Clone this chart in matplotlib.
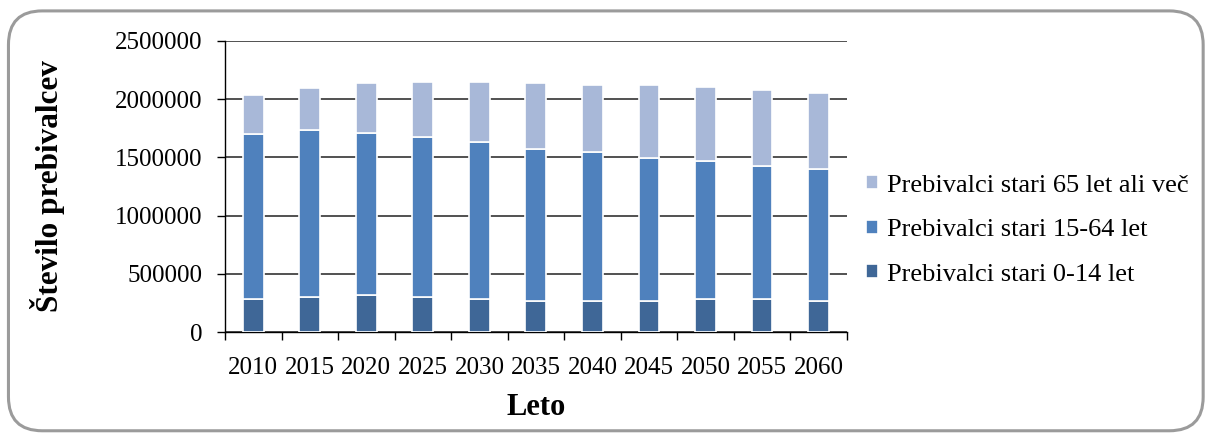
import matplotlib.pyplot as plt
from matplotlib.patches import FancyBboxPatch
import numpy as np

years = ["2010", "2015", "2020", "2025", "2030", "2035", "2040", "2045", "2050", "2055", "2060"]
age_0_14 = [282000, 302000, 316000, 302000, 282000, 267000, 267000, 267000, 282000, 282000, 267000]
age_15_64 = [1422000, 1431000, 1397000, 1373000, 1350000, 1308000, 1276000, 1230000, 1183000, 1140000, 1132000]
age_65 = [333000, 362000, 425000, 474000, 517000, 560000, 583000, 629000, 641000, 661000, 650000]
labels = ["Prebivalci stari 0-14 let", "Prebivalci stari 15-64 let", "Prebivalci stari 65 let ali več"]
colors = ["#3F6797", "#4F81BD", "#A8B8D8"]

plt.rcParams["font.family"] = ["Liberation Serif", "DejaVu Serif"]

fig = plt.figure(figsize=(12.08, 4.36), dpi=100)
ax = fig.add_axes([0.1863, 0.2385, 0.701 - 0.1863, 0.906 - 0.2385])

# rounded frame round the whole chart
frame = FancyBboxPatch((0.007, 0.012), 0.989, 0.963, boxstyle="round,pad=0,rounding_size=0.028",
                       transform=fig.transFigure, fill=False, edgecolor="#9B9B9B", linewidth=2.2,
                       mutation_aspect=1208 / 436)
fig.patches.append(frame)

x = np.arange(len(years))
w = 0.37
bottom = np.zeros(len(years))
handles = []
for vals, lab, col in zip([age_0_14, age_15_64, age_65], labels, colors):
    b = ax.bar(x, vals, w, bottom=bottom, color=col, edgecolor="white", linewidth=1.2, label=lab, zorder=3)
    handles.append(b)
    bottom += np.array(vals)

ax.set_xlim(-0.5, len(years) - 0.5)
ax.set_ylim(0, 2500000)
ax.set_yticks(np.arange(0, 2500001, 500000))
ax.yaxis.set_major_formatter(plt.FuncFormatter(lambda v, p: f"{int(v)}"))
ax.grid(axis="y", color="#333333", linewidth=1.2, zorder=0)
ax.set_axisbelow(True)

ax.set_xticks(x)
ax.set_xticklabels(years)
ax.set_xticks(np.arange(-0.5, len(years)), minor=True)
ax.tick_params(axis="x", which="major", length=0, labelsize=18, pad=18)
ax.tick_params(axis="x", which="minor", length=6, width=1, direction="out")
ax.tick_params(axis="y", length=6, width=1, direction="out", labelsize=18, pad=10)

for s in ["top", "right"]:
    ax.spines[s].set_visible(False)
ax.spines["left"].set_linewidth(1)
ax.spines["bottom"].set_linewidth(1)

ax.set_xlabel("Leto", fontsize=22, fontweight="bold", labelpad=10)
ax.set_ylabel("Število prebivalcev", fontsize=22.5, fontweight="bold", labelpad=36)

leg = ax.legend(handles[::-1], labels[::-1], loc="center left", bbox_to_anchor=(0.993, 0.35),
                frameon=False, fontsize=19, handlelength=0.45, handleheight=0.45,
                handletextpad=0.35, labelspacing=0.85)

fig.savefig("out.png", dpi=100)
